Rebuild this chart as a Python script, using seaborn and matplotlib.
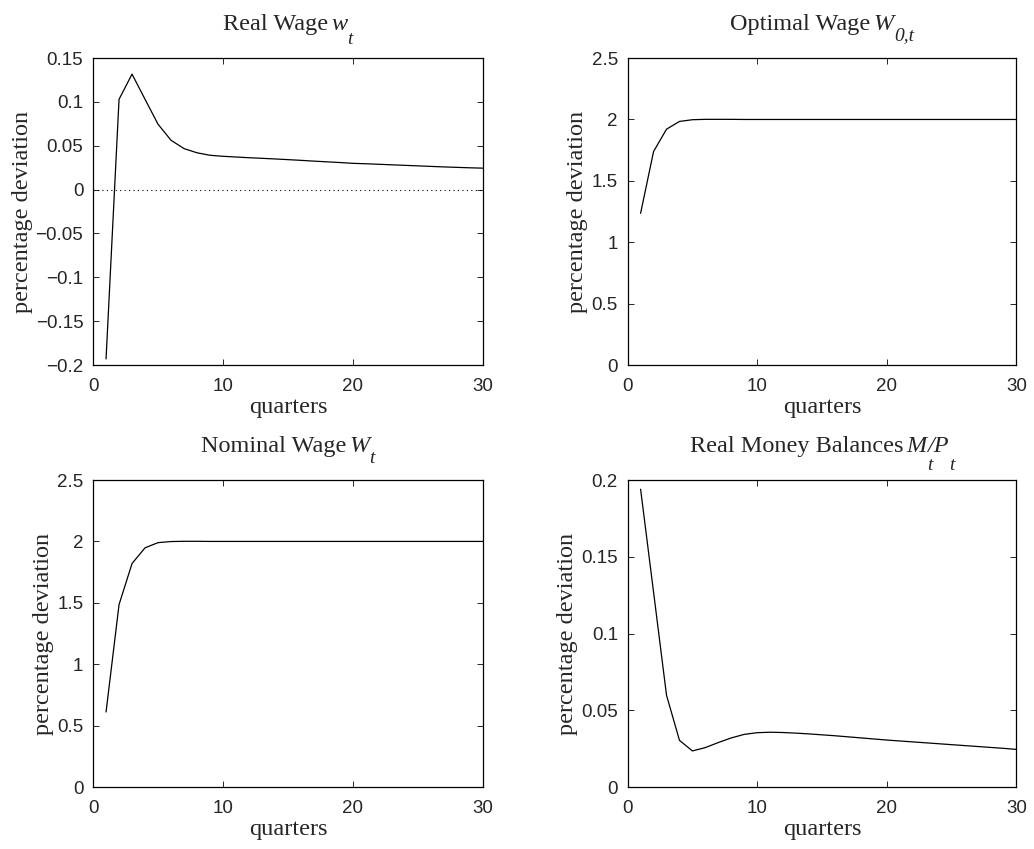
import numpy as np
import pandas as pd
import matplotlib
matplotlib.use("Agg")
import matplotlib.pyplot as plt
from matplotlib.ticker import FuncFormatter
import seaborn as sns

quarters = list(range(1, 31))

real_wage = [-0.193, 0.103, 0.1317, 0.103, 0.0746, 0.0563, 0.0468, 0.042, 0.0392,
             0.038, 0.0372, 0.0364, 0.0357, 0.0350, 0.0342, 0.0334, 0.0325, 0.0317,
             0.0309, 0.0300, 0.0295, 0.0289, 0.0283, 0.0277, 0.0271, 0.0265, 0.0259,
             0.0254, 0.0249, 0.0245]

optimal_wage = [1.236, 1.739, 1.921, 1.984, 1.998, 2.001, 2.001, 2.001, 2.0, 2.0,
                2.0, 2.0, 2.0, 2.0, 2.0, 2.0, 2.0, 2.0, 2.0, 2.0,
                2.0, 2.0, 2.0, 2.0, 2.0, 2.0, 2.0, 2.0, 2.0, 2.0]

nominal_wage = [0.611, 1.486, 1.82, 1.948, 1.99, 1.999, 2.001, 2.001, 2.0, 2.0,
                2.0, 2.0, 2.0, 2.0, 2.0, 2.0, 2.0, 2.0, 2.0, 2.0,
                2.0, 2.0, 2.0, 2.0, 2.0, 2.0, 2.0, 2.0, 2.0, 2.0]

real_money = [0.194, 0.127, 0.0598, 0.0304, 0.0235, 0.0257, 0.029, 0.032, 0.0343,
              0.0354, 0.0357, 0.0355, 0.0351, 0.0346, 0.0340, 0.0334, 0.0327, 0.0320,
              0.0313, 0.0306, 0.0300, 0.0294, 0.0288, 0.0282, 0.0276, 0.0270, 0.0264,
              0.0258, 0.0252, 0.0245]

# Title pieces: (text, style); styles: roman, italic, subscript
titles = [
    [("Real Wage", "rm"), ("w", "it"), ("t", "sub")],
    [("Optimal Wage", "rm"), ("W", "it"), ("0,t", "sub")],
    [("Nominal Wage", "rm"), ("W", "it"), ("t", "sub")],
    [("Real Money Balances", "rm"), ("M", "it"), ("t", "sub"), ("/P", "it"), ("t", "sub")],
]
ylims = [(-0.2, 0.15), (0, 2.5), (0, 2.5), (0, 0.2)]
yticks = [[-0.2, -0.15, -0.1, -0.05, 0, 0.05, 0.1, 0.15],
          [0, 0.5, 1, 1.5, 2, 2.5],
          [0, 0.5, 1, 1.5, 2, 2.5],
          [0, 0.05, 0.1, 0.15, 0.2]]
xticks = [0, 10, 20, 30]
series = [real_wage, optimal_wage, nominal_wage, real_money]

sns.set_style("ticks", {"xtick.direction": "in", "ytick.direction": "in",
                        "axes.edgecolor": "black"})
plt.rcParams["font.family"] = ["Liberation Sans", "DejaVu Sans"]
serif = ["Liberation Serif", "DejaVu Serif"]

FIG_W, FIG_H = 1034, 849
fig = plt.figure(figsize=(FIG_W / 100, FIG_H / 100), dpi=100)
positions = [(0.090, 0.570, 0.377, 0.3616), (0.607, 0.570, 0.376, 0.3616),
             (0.090, 0.073, 0.377, 0.3616), (0.607, 0.073, 0.376, 0.3616)]
ylabel_x = [-0.180, -0.129, -0.128, -0.154]
sub_drop = [14, 10, 11, 18]

fmt = FuncFormatter(lambda v, p: ("%g" % v).replace("-", "\u2212"))
renderer = fig.canvas.get_renderer()


def draw_title(ax, parts, drop, gap_above=28):
    """Compose a title from roman, italic and lowered-subscript pieces."""
    box = ax.get_position()
    base_y = box.y1 * FIG_H + gap_above
    items = []
    x = 0.0
    prev = None
    for text, style in parts:
        size = 17.5 if style != "sub" else 14
        italic = style != "rm"
        dy = -drop if style == "sub" else 0
        if prev == "rm":
            x += 3
        elif prev == "sub" and style == "it":
            x -= 5
        t = fig.text(0, (base_y + dy) / FIG_H, text, fontsize=size, family=serif,
                     fontstyle="italic" if italic else "normal",
                     va="baseline", ha="left")
        w = t.get_window_extent(renderer).width
        items.append((t, x))
        x += w
        prev = style
    center = (box.x0 + box.x1) / 2 * FIG_W
    start = center - x / 2
    for t, off in items:
        t.set_x((start + off) / FIG_W)


for i, pos in enumerate(positions):
    ax = fig.add_axes(pos)
    df = pd.DataFrame({"quarter": quarters, "value": series[i]})
    sns.lineplot(data=df, x="quarter", y="value", ax=ax, color="black", lw=0.9)
    if i == 0:
        ax.axhline(0, color="black", lw=0.8, ls=(0, (1, 3)))
    ax.set_xlim(0, 30)
    ax.set_ylim(*ylims[i])
    ax.set_xticks(xticks)
    ax.set_yticks(yticks[i])
    ax.yaxis.set_major_formatter(fmt)
    ax.tick_params(axis="both", which="both", direction="in", top=True, right=True,
                   length=4, width=0.7, labelsize=13.5)
    ax.tick_params(axis="x", pad=9)
    ax.tick_params(axis="y", pad=7)
    for s in ax.spines.values():
        s.set_linewidth(0.9)
        s.set_color("black")
    ax.set_xlabel("quarters", fontsize=17.5, family=serif, labelpad=2)
    ax.set_ylabel("percentage deviation", fontsize=17.5, family=serif,
                  va="center", ha="center")
    ax.yaxis.set_label_coords(ylabel_x[i], 0.5)
    draw_title(ax, titles[i], sub_drop[i])

fig.savefig("out.png", dpi=100)
